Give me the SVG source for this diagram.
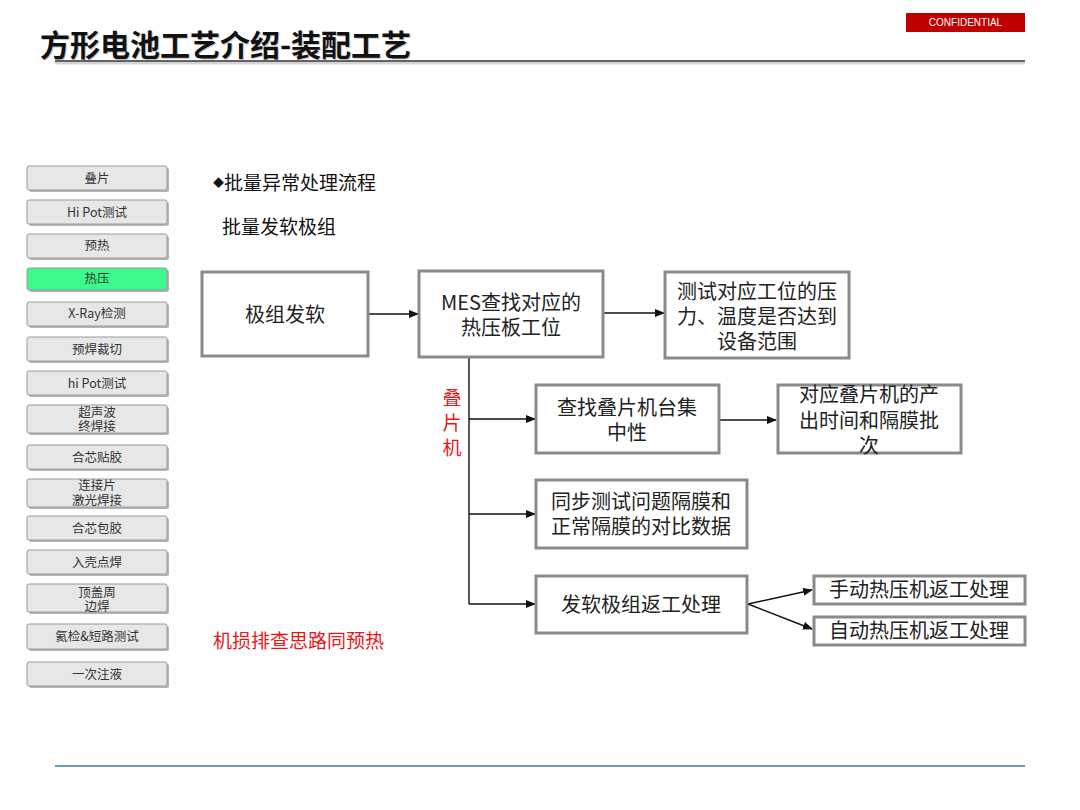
<svg xmlns="http://www.w3.org/2000/svg" width="1080" height="810" viewBox="0 0 1080 810">
<defs>
<style>
.cjk{font-family:"Noto Sans CJK SC","Noto Sans",sans-serif}
.btn rect.sh{fill:#b5b5b5}
.btn rect.bg{fill:#e7e7e7;stroke:#9a9a9a;stroke-width:1}
.btn text{font-family:"Noto Sans CJK SC","Noto Sans",sans-serif;font-size:12.5px;fill:#333;text-anchor:middle}
.box rect{fill:#fff;stroke:#8a8a8a;stroke-width:3}
.box text{font-family:"Noto Sans CJK SC","Noto Sans",sans-serif;font-size:20px;fill:#222;text-anchor:middle}
.con line,.con path{stroke:#111;stroke-width:1.4;fill:none}
</style>
<marker id="ah" markerWidth="10" markerHeight="8" refX="9" refY="4" orient="auto" markerUnits="userSpaceOnUse">
<path d="M0,0 L10,4 L0,8 Z" fill="#111"/>
</marker>
</defs>
<rect width="1080" height="810" fill="#fff"/>

<g id="title">
<text x="41" y="57" class="cjk" font-size="30" font-weight="bold" fill="#c8c8c8">方形电池工艺介绍-装配工艺</text>
<text x="40" y="56" class="cjk" font-size="30" font-weight="bold" fill="#111">方形电池工艺介绍-装配工艺</text>
<line x1="55" y1="63" x2="1025" y2="63" stroke="#d5d5d5" stroke-width="3"/>
<line x1="55" y1="61" x2="1025" y2="61" stroke="#333" stroke-width="1.6"/>
</g>

<g id="confidential">
<rect x="906" y="13" width="119" height="19" fill="#c00000"/>
<text x="965.5" y="26" font-family="Liberation Sans, Arial, sans-serif" font-size="10" fill="#fff" text-anchor="middle">CONFIDENTIAL</text>
</g>

<g id="menu">
<g class="btn" id="m1"><rect class="sh" x="29" y="168" width="140" height="24" rx="2"/><rect class="bg" x="27" y="166" width="140" height="24" rx="2"/><text x="97" y="182.5">叠片</text></g>
<g class="btn" id="m2"><rect class="sh" x="29" y="202" width="140" height="24" rx="2"/><rect class="bg" x="27" y="200" width="140" height="24" rx="2"/><text x="97" y="216.5">Hi Pot测试</text></g>
<g class="btn" id="m3"><rect class="sh" x="29" y="236" width="140" height="24" rx="2"/><rect class="bg" x="27" y="234" width="140" height="24" rx="2"/><text x="97" y="250">预热</text></g>
<g class="btn" id="m4"><rect class="sh" x="29" y="270" width="140" height="22" rx="2"/><rect class="bg" x="27" y="268" width="140" height="22" rx="2" style="fill:#3cfa8c"/><text x="97" y="283">热压</text></g>
<g class="btn" id="m5"><rect class="sh" x="29" y="304" width="140" height="24" rx="2"/><rect class="bg" x="27" y="302" width="140" height="24" rx="2"/><text x="97" y="318">X-Ray检测</text></g>
<g class="btn" id="m6"><rect class="sh" x="29" y="339" width="140" height="24" rx="2"/><rect class="bg" x="27" y="337" width="140" height="24" rx="2"/><text x="97" y="353.5">预焊裁切</text></g>
<g class="btn" id="m7"><rect class="sh" x="29" y="373" width="140" height="24" rx="2"/><rect class="bg" x="27" y="371" width="140" height="24" rx="2"/><text x="97" y="387.5">hi Pot测试</text></g>
<g class="btn" id="m8"><rect class="sh" x="29" y="407" width="140" height="28" rx="2"/><rect class="bg" x="27" y="405" width="140" height="28" rx="2"/><text x="97" y="416.5">超声波<tspan x="97" dy="14.5">终焊接</tspan></text></g>
<g class="btn" id="m9"><rect class="sh" x="29" y="447" width="140" height="24" rx="2"/><rect class="bg" x="27" y="445" width="140" height="24" rx="2"/><text x="97" y="461.5">合芯贴胶</text></g>
<g class="btn" id="m10"><rect class="sh" x="29" y="481" width="140" height="28" rx="2"/><rect class="bg" x="27" y="479" width="140" height="28" rx="2"/><text x="97" y="490">连接片<tspan x="97" dy="14.5">激光焊接</tspan></text></g>
<g class="btn" id="m11"><rect class="sh" x="29" y="518" width="140" height="24" rx="2"/><rect class="bg" x="27" y="516" width="140" height="24" rx="2"/><text x="97" y="532.5">合芯包胶</text></g>
<g class="btn" id="m12"><rect class="sh" x="29" y="552" width="140" height="24" rx="2"/><rect class="bg" x="27" y="550" width="140" height="24" rx="2"/><text x="97" y="566.5">入壳点焊</text></g>
<g class="btn" id="m13"><rect class="sh" x="29" y="586" width="140" height="28" rx="2"/><rect class="bg" x="27" y="584" width="140" height="28" rx="2"/><text x="97" y="596.5">顶盖周<tspan x="97" dy="14">边焊</tspan></text></g>
<g class="btn" id="m14"><rect class="sh" x="29" y="626" width="140" height="25" rx="2"/><rect class="bg" x="27" y="624" width="140" height="25" rx="2"/><text x="97" y="641">氦检&amp;短路测试</text></g>
<g class="btn" id="m15"><rect class="sh" x="29" y="664" width="140" height="24" rx="2"/><rect class="bg" x="27" y="662" width="140" height="24" rx="2"/><text x="97" y="679">一次注液</text></g>
</g>

<g id="headings">
<text x="213" y="190" class="cjk" font-size="19" fill="#111"><tspan font-size="11" dy="-3">◆</tspan><tspan dy="3">批量异常处理流程</tspan></text>
<text x="222" y="234" class="cjk" font-size="19" fill="#111">批量发软极组</text>
<text x="213" y="648" class="cjk" font-size="19" fill="#e8161b">机损排查思路同预热</text>
<text id="label-diepianji" class="cjk" font-size="19" fill="#e8161b" text-anchor="middle" x="452" y="405">叠<tspan x="452" dy="25">片</tspan><tspan x="452" dy="25">机</tspan></text>
</g>

<g id="connectors" class="con">
<line x1="368" y1="314" x2="418" y2="314" marker-end="url(#ah)"/>
<line x1="603" y1="313" x2="664" y2="313" marker-end="url(#ah)"/>
<line x1="469" y1="358" x2="469" y2="604"/>
<line x1="469" y1="419" x2="535" y2="419" marker-end="url(#ah)"/>
<line x1="719" y1="420" x2="776" y2="420" marker-end="url(#ah)"/>
<line x1="469" y1="514" x2="535" y2="514" marker-end="url(#ah)"/>
<line x1="469" y1="604" x2="535" y2="604" marker-end="url(#ah)"/>
<line x1="748" y1="604" x2="812" y2="590" marker-end="url(#ah)"/>
<line x1="748" y1="604" x2="812" y2="629" marker-end="url(#ah)"/>
</g>

<g id="n1" class="box"><rect x="202" y="272" width="166" height="84"/><text x="285" y="322">极组发软</text></g>
<g id="n2" class="box"><rect x="419" y="271" width="184" height="86"/><text x="511" y="310">MES查找对应的<tspan x="511" dy="25">热压板工位</tspan></text></g>
<g id="n3" class="box"><rect x="665" y="272" width="184" height="86"/><text x="757" y="299">测试对应工位的压<tspan x="757" dy="25">力、温度是否达到</tspan><tspan x="757" dy="25">设备范围</tspan></text></g>
<g id="n4" class="box"><rect x="536" y="385" width="183" height="68"/><text x="627" y="415">查找叠片机台集<tspan x="627" dy="25">中性</tspan></text></g>
<g id="n5" class="box"><rect x="778" y="385" width="183" height="68"/><text x="869" y="402">对应叠片机的产<tspan x="869" dy="26">出时间和隔膜批</tspan><tspan x="869" dy="25">次</tspan></text></g>
<g id="n6" class="box"><rect x="536" y="480" width="211" height="68"/><text x="641" y="509">同步测试问题隔膜和<tspan x="641" dy="25">正常隔膜的对比数据</tspan></text></g>
<g id="n7" class="box"><rect x="536" y="576" width="211" height="57"/><text x="641" y="612">发软极组返工处理</text></g>
<g id="n8" class="box"><rect x="814" y="576" width="211" height="28"/><text x="919" y="597">手动热压机返工处理</text></g>
<g id="n9" class="box"><rect x="814" y="617" width="211" height="28"/><text x="919" y="638">自动热压机返工处理</text></g>

<line id="footer-line" x1="55" y1="766" x2="1025" y2="766" stroke="#6f9cbb" stroke-width="2"/>
</svg>
